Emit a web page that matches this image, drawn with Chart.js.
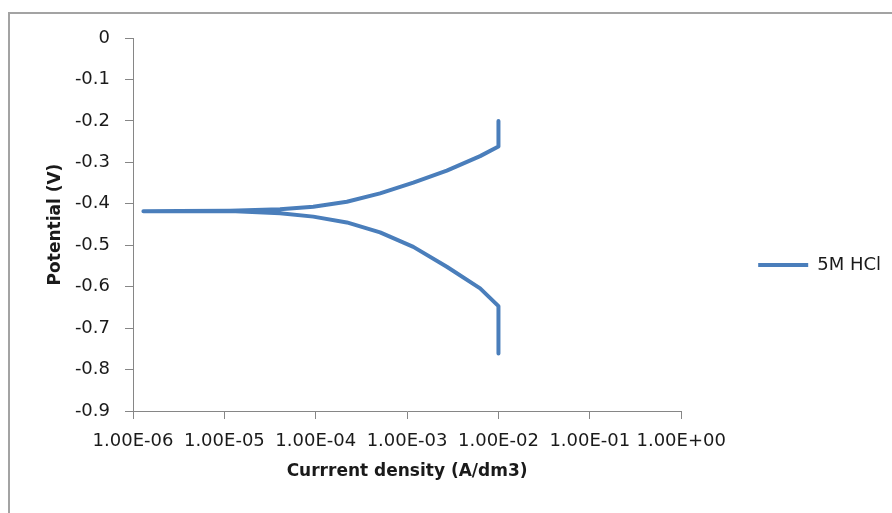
<!DOCTYPE html>
<html>
<head>
<meta charset="utf-8">
<script src="https://cdn.jsdelivr.net/npm/chart.js@4.4.1/dist/chart.umd.min.js"></script>
<style>
  html, body { margin: 0; padding: 0; background: #fff; overflow: hidden; }
  #frame { position: absolute; left: 8px; top: 12px; width: 920px; height: 540px; border: 2px solid #a3a3a3; }
  #wrap { position: absolute; left: 0; top: 0; width: 892px; height: 513px; }
</style>
</head>
<body>
<div id="frame"></div>
<div id="wrap"><canvas id="myChart" width="892" height="513"></canvas></div>
<script>
// polarization curve, cathodic end -> corrosion potential -> anodic end
var currentDensity = [1.0e-2, 1.0e-2, 6.30e-3, 2.72e-3, 1.17e-3, 5.06e-4, 2.19e-4, 9.4e-5, 4.07e-5, 1.15e-5, 3.2e-6, 1.30e-6,
                      3.2e-6, 1.15e-5, 4.07e-5, 9.4e-5, 2.19e-4, 5.06e-4, 1.17e-3, 2.72e-3, 6.30e-3, 1.0e-2, 1.0e-2];
var potential = [-0.761, -0.647, -0.604, -0.552, -0.504, -0.469, -0.445, -0.431, -0.423, -0.4175, -0.418, -0.418,
                 -0.4175, -0.4167, -0.4134, -0.4071, -0.395, -0.375, -0.349, -0.320, -0.285, -0.262, -0.200];
var seriesName = "5M HCl";
var xTicks = [1e-6, 1e-5, 1e-4, 1e-3, 1e-2, 1e-1, 1e0];
var lineColor = "#4a7ebb";
var axisColor = "#868686";

var points = currentDensity.map((c, i) => ({ x: c, y: potential[i] }));

function sciLabel(v) {
  var parts = Number(v).toExponential(2).split("e");
  var exp = parseInt(parts[1], 10);
  return parts[0] + "E" + (exp < 0 ? "-" : "+") + String(Math.abs(exp)).padStart(2, "0");
}

new Chart("myChart", {
  type: "scatter",
  data: {
    datasets: [{
      label: seriesName,
      data: points,
      showLine: true,
      borderColor: lineColor,
      backgroundColor: lineColor,
      borderWidth: 4,
      borderCapStyle: "round",
      borderJoinStyle: "round",
      pointRadius: 0,
      tension: 0
    }]
  },
  options: {
    responsive: false,
    animation: false,
    layout: { padding: { left: 10, top: 38, right: 1, bottom: 21 } },
    plugins: {
      legend: {
        position: "right",
        labels: {
          usePointStyle: true,
          pointStyle: "line",
          pointStyleWidth: 50,
          boxWidth: 50,
          padding: 77,
          color: "#1a1a1a",
          font: { family: "DejaVu Sans", size: 18 }
        }
      },
      tooltip: { enabled: false }
    },
    scales: {
      x: {
        type: "logarithmic",
        min: 1e-6,
        max: 1,
        afterBuildTicks: (axis) => { axis.ticks = xTicks.map(v => ({ value: v })); },
        afterFit: (axis) => { axis.height = 81; },
        border: { color: axisColor, width: 1 },
        grid: { drawOnChartArea: false, color: axisColor, tickLength: 8 },
        ticks: {
          autoSkip: false,
          maxRotation: 0,
          padding: 12,
          color: "#1a1a1a",
          font: { family: "DejaVu Sans", size: 18 },
          callback: (v) => sciLabel(v)
        },
        title: {
          display: true,
          text: "Currrent density (A/dm3)",
          color: "#1a1a1a",
          font: { family: "DejaVu Sans", size: 17, weight: "bold" },
          padding: { top: 0, bottom: 10 }
        }
      },
      y: {
        min: -0.9,
        max: 0,
        afterFit: (axis) => { axis.width = 123; },
        border: { color: axisColor, width: 1 },
        grid: { drawOnChartArea: false, color: axisColor, tickLength: 8 },
        ticks: {
          stepSize: 0.1,
          padding: 15,
          color: "#1a1a1a",
          font: { family: "DejaVu Sans", size: 18 },
          callback: (v) => String(Number(v.toFixed(1)))
        },
        title: {
          display: true,
          text: "Potential (V)",
          color: "#1a1a1a",
          font: { family: "DejaVu Sans", size: 17, weight: "bold" },
          padding: { top: 35, bottom: 0 }
        }
      }
    }
  }
});
</script>
</body>
</html>
